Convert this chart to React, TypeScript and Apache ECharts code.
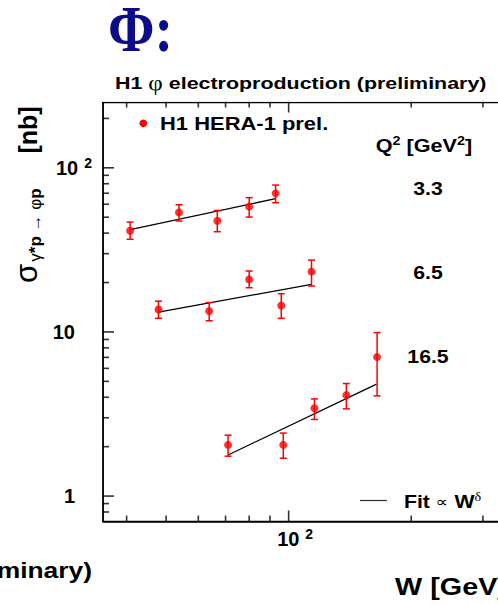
import React, { useEffect, useRef } from "react";
import * as echarts from "echarts";

// values: W [GeV], sigma [nb], error bar ends
const q33W = [40.8, 53.8, 66.8, 80.0, 92.9];
const q33Sigma = [41.4, 53.5, 47.6, 58.0, 69.9];
const q33Lo = [36.7, 47.4, 40.8, 50.1, 61.3];
const q33Hi = [46.7, 59.6, 55.0, 65.8, 78.5];
const q33FitW = [40.8, 92.9];
const q33FitSigma = [42.0, 64.9];

const q65W = [47.9, 63.8, 80.0, 95.9, 113.8];
const q65Sigma = [13.7, 13.4, 20.9, 14.5, 23.3];
const q65Lo = [12.1, 11.7, 18.6, 12.1, 19.05];
const q65Hi = [15.4, 15.1, 23.5, 17.1, 27.4];
const q65FitW = [47.9, 113.8];
const q65FitSigma = [13.2, 19.5];

const q165W = [71.0, 97.0, 115.7, 138.6, 164.9];
const q165Sigma = [2.05, 2.05, 3.43, 4.12, 7.04];
const q165Lo = [1.75, 1.7, 2.93, 3.4, 4.08];
const q165Hi = [2.35, 2.42, 3.91, 4.85, 9.92];
const q165FitW = [71.0, 164.4];
const q165FitSigma = [1.78, 4.81];

const q2Labels = ["3.3", "6.5", "16.5"];

const xRange = [35, 370];
const yRange = [0.7, 250];
const xMinorTicks = [40, 50, 60, 70, 80, 90, 200, 300];
const xMajorTicks = [100];
const yMinorTicks = [0.8, 0.9, 2, 3, 4, 5, 6, 7, 8, 9, 20, 30, 40, 50, 60, 70, 80, 90, 200];
const yMajorTicks = [1, 10, 100];

const SANS = "'Liberation Sans', Arial, Helvetica, 'DejaVu Sans', sans-serif";
const SERIF = "'Liberation Serif', 'Times New Roman', 'DejaVu Serif', serif";
const RED = "#ff0000";
const TOP = 200; // texts and axes sit above the white tick masks

const isPow10 = (v: number) =>
  Math.abs(Math.log10(v) - Math.round(Math.log10(v))) < 1e-6;

function pointSeries(w: number[], s: number[]) {
  return {
    type: "scatter",
    data: w.map((x, i) => [x, s[i]]),
    symbol: "circle",
    symbolSize: 8,
    itemStyle: { color: RED },
    z: 5,
  };
}

function errorSeries(w: number[], lo: number[], hi: number[]) {
  return {
    type: "custom",
    data: w.map((x, i) => [x, lo[i], hi[i]]),
    encode: { x: 0, y: [1, 2] },
    silent: true,
    z: 4,
    renderItem: (_p: any, api: any) => {
      const a = api.coord([api.value(0), api.value(1)]);
      const b = api.coord([api.value(0), api.value(2)]);
      const cap = 3.5;
      return {
        type: "group",
        children: [
          { type: "line", shape: { x1: a[0], y1: a[1], x2: b[0], y2: b[1] }, style: { stroke: RED, lineWidth: 1.5 } },
          { type: "line", shape: { x1: a[0] - cap, y1: a[1], x2: a[0] + cap, y2: a[1] }, style: { stroke: RED, lineWidth: 1.5 } },
          { type: "line", shape: { x1: b[0] - cap, y1: b[1], x2: b[0] + cap, y2: b[1] }, style: { stroke: RED, lineWidth: 1.5 } },
        ],
      };
    },
  };
}

function fitSeries(w: number[], s: number[]) {
  return {
    type: "line",
    data: w.map((x, i) => [x, s[i]]),
    showSymbol: false,
    symbol: "none",
    lineStyle: { color: "#000", width: 1.3 },
    z: 3,
  };
}

// axis ticks: thin rect symbols centred on the frame (placed by the log scales);
// the half outside the frame is hidden by white masks
function tickSeries(data: number[][], size: number[]) {
  return {
    type: "scatter",
    data,
    symbol: "rect",
    symbolSize: size,
    itemStyle: { color: "#000" },
    clip: false,
  };
}

const labelRich = {
  n: { fontSize: 20, fontWeight: "bold", fontFamily: SANS, color: "#000", lineHeight: 24 },
  s: {
    fontSize: 14,
    fontWeight: "bold",
    fontFamily: SANS,
    color: "#000",
    lineHeight: 12,
    verticalAlign: "top",
    padding: [0, 0, 0, 6],
  },
  g: { width: 17, fontSize: 20, lineHeight: 24 },
  pre: { width: 13, fontSize: 20, lineHeight: 24 },
};

export default function App() {
  const chartRef = useRef<HTMLDivElement>(null);

  useEffect(() => {
    if (!chartRef.current) return;
    const chart = echarts.init(chartRef.current, null, { renderer: "svg" });

    const boldText = (size: number) => ({
      fontSize: size,
      fontWeight: "bold",
      fontFamily: SANS,
      fill: "#000",
    });

    const option: any = {
      animation: false,
      grid: {
        left: 103,
        top: 102.5,
        right: 80,
        bottom: 83.5,
        show: true,
        borderColor: "#000",
        borderWidth: 1.5,
      },
      xAxis: {
        type: "log",
        logBase: 10,
        min: xRange[0],
        max: xRange[1],
        z: TOP,
        axisLine: { show: true, lineStyle: { color: "#000", width: 1.5 } },
        axisTick: { show: false },
        splitLine: { show: false },
        axisLabel: {
          margin: 5,
          formatter: (v: number) =>
            isPow10(v) && Math.round(Math.log10(v)) === 2 ? "{pre| }{n|10}{s|2}" : "",
          rich: labelRich,
        },
      },
      yAxis: {
        type: "log",
        logBase: 10,
        min: yRange[0],
        max: yRange[1],
        z: TOP,
        axisLine: { show: true, lineStyle: { color: "#000", width: 1.5 } },
        axisTick: { show: false },
        splitLine: { show: false },
        axisLabel: {
          margin: 11,
          formatter: (v: number) => {
            if (!isPow10(v)) return "";
            const e = Math.round(Math.log10(v));
            if (e >= 2) return `{n|10}{s|${e}}`;
            return `{n|${Math.round(Math.pow(10, e))}}{g| }`;
          },
          rich: labelRich,
        },
      },
      series: [
        tickSeries(xMinorTicks.map((v) => [v, yRange[0]]), [1.6, 12]),
        tickSeries(xMajorTicks.map((v) => [v, yRange[0]]), [1.6, 22]),
        tickSeries(xMinorTicks.map((v) => [v, yRange[1]]), [1.6, 10]),
        tickSeries(xMajorTicks.map((v) => [v, yRange[1]]), [1.6, 20]),
        tickSeries(yMinorTicks.map((v) => [xRange[0], v]), [12, 1.6]),
        tickSeries(yMajorTicks.map((v) => [xRange[0], v]), [22, 1.6]),
        fitSeries(q33FitW, q33FitSigma),
        fitSeries(q65FitW, q65FitSigma),
        fitSeries(q165FitW, q165FitSigma),
        errorSeries(q33W, q33Lo, q33Hi),
        errorSeries(q65W, q65Lo, q65Hi),
        errorSeries(q165W, q165Lo, q165Hi),
        pointSeries(q33W, q33Sigma),
        pointSeries(q65W, q65Sigma),
        pointSeries(q165W, q165Sigma),
      ],
      graphic: [
        { type: "rect", z: 100, silent: true, shape: { x: 0, y: 522.3, width: 600, height: 12 }, style: { fill: "#fff" } },
        { type: "rect", z: 100, silent: true, shape: { x: 0, y: 90, width: 600, height: 11.7 }, style: { fill: "#fff" } },
        { type: "rect", z: 100, silent: true, shape: { x: 90, y: 101, width: 12.2, height: 430 }, style: { fill: "#fff" } },
        {
          type: "text",
          z: TOP,
          x: 108,
          y: 28,
          scaleX: 0.85,
          style: {
            text: "Φ:",
            fontSize: 66,
            fontWeight: "bold",
            fontFamily: SERIF,
            fill: "#0b0b8c",
            textVerticalAlign: "middle",
          },
        },
        {
          type: "text",
          z: TOP,
          x: 115,
          y: 83,
          scaleX: 1.26,
          style: {
            text: "{b|H1 }{g|φ}{b| electroproduction (preliminary)}",
            textVerticalAlign: "middle",
            rich: {
              b: { fontSize: 17, fontWeight: "bold", fontFamily: SANS, color: "#000" },
              g: { fontSize: 20, fontFamily: SERIF, color: "#000" },
            },
          },
        },
        {
          type: "circle",
          z: TOP,
          shape: { cx: 143.3, cy: 123.3, r: 3.8 },
          style: { fill: RED },
        },
        {
          type: "text",
          z: TOP,
          x: 160,
          y: 124,
          scaleX: 1.22,
          style: { text: "H1 HERA-1 prel.", ...boldText(18), textVerticalAlign: "middle" },
        },
        {
          type: "text",
          z: TOP,
          x: 424,
          y: 146,
          scaleX: 1.2,
          style: {
            text: "{b|Q}{s|2}{b| [GeV}{s|2}{b|]}",
            textAlign: "center",
            textVerticalAlign: "middle",
            rich: {
              b: { fontSize: 18, fontWeight: "bold", fontFamily: SANS, color: "#000", lineHeight: 22 },
              s: {
                fontSize: 12,
                fontWeight: "bold",
                fontFamily: SANS,
                color: "#000",
                lineHeight: 10,
                verticalAlign: "top",
              },
            },
          },
        },
        ...q2Labels.map((t, i) => ({
          type: "text",
          z: TOP,
          x: 428,
          y: 189 + i * 84,
          scaleX: 1.18,
          style: { text: t, ...boldText(18), textAlign: "center", textVerticalAlign: "middle" },
        })),
        {
          type: "line",
          z: TOP,
          shape: { x1: 360, y1: 500.5, x2: 387, y2: 500.5 },
          style: { stroke: "#333", lineWidth: 1.2 },
        },
        {
          type: "text",
          z: TOP,
          x: 404,
          y: 502,
          scaleX: 1.18,
          style: {
            text: "{b|Fit }{r|∝}{b| W}{s|δ}",
            textVerticalAlign: "middle",
            rich: {
              b: { fontSize: 18, fontWeight: "bold", fontFamily: SANS, color: "#000", lineHeight: 22 },
              r: { fontSize: 15, fontFamily: SANS, color: "#000", lineHeight: 22 },
              s: { fontSize: 12, fontFamily: SERIF, color: "#000", lineHeight: 10, verticalAlign: "top" },
            },
          },
        },
        {
          type: "text",
          z: TOP,
          x: 26.5,
          y: 273.5,
          rotation: Math.PI / 2,
          style: {
            text: "σ",
            fontSize: 31,
            fontFamily: SANS,
            fill: "#000",
            textAlign: "center",
            textVerticalAlign: "middle",
          },
        },
        {
          type: "text",
          z: TOP,
          x: 35,
          y: 225,
          rotation: Math.PI / 2,
          style: {
            text: "{g|γ}{b|*p }{g|→ φ}{b|p}",
            textAlign: "center",
            textVerticalAlign: "middle",
            rich: {
              b: { fontSize: 17, fontWeight: "bold", fontFamily: SANS, color: "#000" },
              g: { fontSize: 17, fontFamily: SANS, color: "#000" },
            },
          },
        },
        {
          type: "text",
          z: TOP,
          x: 27.5,
          y: 130,
          rotation: Math.PI / 2,
          style: { text: "[nb]", ...boldText(25), textAlign: "center", textVerticalAlign: "middle" },
        },
        {
          type: "text",
          z: TOP,
          x: 395,
          y: 587,
          scaleX: 1.2,
          style: { text: "W [GeV]", ...boldText(24), textVerticalAlign: "middle" },
        },
        {
          type: "text",
          z: TOP,
          x: 92,
          y: 570,
          scaleX: 1.2,
          style: { text: "(preliminary)", ...boldText(22), textAlign: "right", textVerticalAlign: "middle" },
        },
      ],
    };

    chart.setOption(option);
    return () => {
      chart.dispose();
    };
  }, []);

  return (
    <div
      style={{
        position: "fixed",
        left: 0,
        top: 0,
        width: 498,
        height: 605,
        overflow: "hidden",
        background: "#fff",
      }}
    >
      <div ref={chartRef} style={{ width: 600, height: 605 }} />
    </div>
  );
}
